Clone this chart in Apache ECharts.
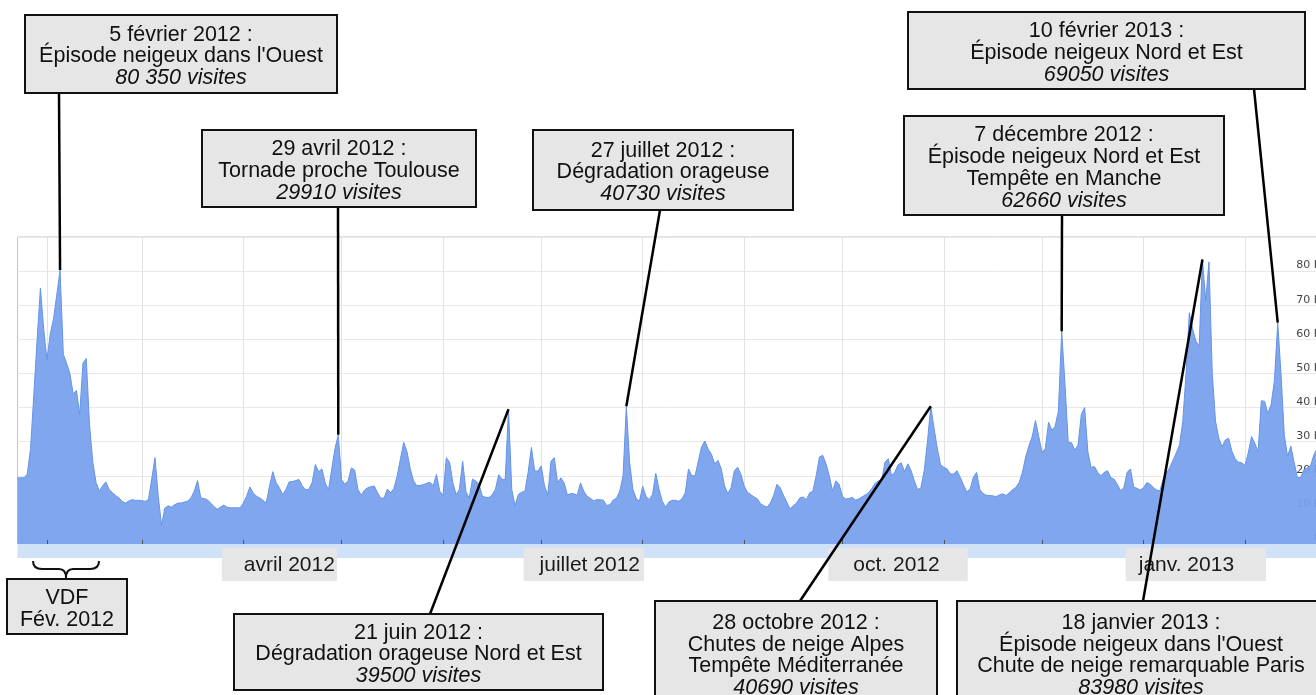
<!DOCTYPE html>
<html><head><meta charset="utf-8">
<script src="https://cdn.jsdelivr.net/npm/echarts@6/dist/echarts.min.js"></script>
<style>html,body{margin:0;padding:0;background:#fff}#c{width:1316px;height:695px}</style>
</head><body><div id="c"></div>
<script>
// ---- data (visits, in thousands, one value per day from 23 Jan 2012) ----
const startDay = [2012, 0, 23];
const visitsK = [
19.4,19.4,19.4,20.5,28,44,60,75,63,54,
61.5,66,73,80.3,55.6,53,50,44,45,38,
53,54.4,35,24,18,15.5,17,18.2,16,15,
14.2,13.5,12.5,12,12.6,13,12.8,12.8,12.7,12.5,
13,19,25.3,14,5.5,10.5,11.2,10.8,11.5,12,
12,12.3,12.6,13.5,15.5,18.6,13.5,13.3,13,12,
11,10.2,10.8,11.4,10.8,10.6,10.6,10.6,10.6,12,
14,16.7,15,14,13.5,12.8,12,17,21.2,18,
16.5,14.4,16,18.2,18.3,18.6,18.9,17,15.9,16,
18,23.3,21.2,22,17.9,15.8,22,28,32,18.9,
17.5,18.5,22.3,21.7,16,14.3,15.8,16.5,16.8,17,
15,13.4,13.5,16.1,15,16.3,20,25,29.8,27,
22,18.5,17.1,17.2,17.4,17.8,18.1,17.1,20.4,15.5,
14.2,25.3,24,18,14.5,16,24.3,15.4,13.4,19,
18.5,17.5,14,13.7,13.6,14.4,16,20.3,19,18.9,
39.5,16,11.2,14.5,15.2,15.4,21,28.3,21.4,21.4,
22.9,17,14.4,24.3,25.3,17.9,19.4,17.9,14.4,14.8,
14.7,14.3,17.9,15.5,14,13.4,12.7,13,13,12.8,
11.3,11.5,12.9,13.4,15.5,20,40.4,24,16,13.4,
12.5,16.9,14,13,14.5,20.7,16,12.5,10.8,12.3,
12.8,12.8,12.5,13.2,15,22,20,20,24.3,28.5,
30.2,27.8,26.3,23.5,24.5,22,17,14.8,16.5,21.5,
22.5,20.4,17,15.2,14.5,13.8,13.3,11.8,11.2,10.8,
12,14.2,17.5,16.5,14.3,12.3,10.3,11.2,12,13.5,
13.8,13,15,15.5,20,25.5,26,23.5,20,15.5,
18.5,17.5,14,13.2,13.3,13.7,12.9,13.2,13.8,14.4,
15,16.3,17.8,18.5,18.5,24,25,20,21,23.2,
23.8,21.2,23.5,21.5,18.5,15.9,16.5,21.5,30,40.4,
34,28,23.2,22.5,22,20.5,20.5,21.5,19.6,17.3,
15.3,16,19.5,21,15.9,14.8,14.3,14.2,14.1,13.9,
14.4,14.7,14.2,15,15.9,16.6,18,21,25.5,28.8,
31.5,36.2,31.5,26.8,28,35.7,33.3,34.5,39,62.4,
47,29.7,29.7,27.5,29,38,40,27,22.4,22.7,
21,20,21,21.5,19.5,19,17.5,15.6,16.5,21,
22,16.7,16.3,15.8,16.5,18,17.5,16.6,15.8,15.6,
19,20.8,22.3,24.5,26.7,29,36,50,67.8,63,
59.5,58,83.4,71.3,82.7,50,36,31,28.5,30.5,
31,27.2,25,24,23.8,23,26.7,31.5,29.5,27,
42,41.8,38.2,41,48,64.9,50,32,25.7,28.7,
24,19.5,19.5,21.8,22.3,22.8,26,28
];
const monthLabels = ['avril 2012', 'juillet 2012', 'oct. 2012', 'janv. 2013'];
const monthLabelDates = ['2012-04-12', '2012-07-14', '2012-10-18', '2013-01-17'];
const yTickLabels = ['0', '10 K', '20 K', '30 K', '40 K', '50 K', '60 K', '70 K', '80 K', ''];
const eventPeakDates = ['2012-02-05', '2012-04-30', '2012-07-27', '2012-12-07', '2013-02-11', '2012-06-21', '2012-10-28', '2013-01-19'];
const eventTexts = [
  ['5 février 2012 :', "Épisode neigeux dans l'Ouest", '80 350 visites'],
  ['29 avril 2012 :', 'Tornade proche Toulouse', '29910 visites'],
  ['27 juillet 2012 :', 'Dégradation orageuse', '40730 visites'],
  ['7 décembre 2012 :', 'Épisode neigeux Nord et Est', 'Tempête en Manche', '62660 visites'],
  ['10 février 2013 :', 'Épisode neigeux Nord et Est', '69050 visites'],
  ['21 juin 2012 :', 'Dégradation orageuse Nord et Est', '39500 visites'],
  ['28 octobre 2012 :', 'Chutes de neige Alpes', 'Tempête Méditerranée', '40690 visites'],
  ['18 janvier 2013 :', "Épisode neigeux dans l'Ouest", 'Chute de neige remarquable Paris', '83980 visites']
];
const periodText = ['VDF', 'Fév. 2012'];

// ---- layout (pixels) ----
const boxLayout = [
  {box: [25, 15, 312, 78], from: [59, 93]},
  {box: [202, 130, 274, 77], from: [338, 207]},
  {box: [533, 130, 260, 80], from: [660, 210]},
  {box: [904, 116, 320, 99], from: [1062, 215]},
  {box: [908, 12, 397, 77], from: [1254, 89]},
  {box: [234, 614, 369, 76], from: [430, 614]},
  {box: [655, 601, 282, 104], from: [800, 601]},
  {box: [957, 601, 368, 104], from: [1143, 601]}
];
const periodBox = [7, 579, 120, 55];
const FONT = '"Liberation Sans", Arial, sans-serif';
const LH = 21.8;
const TEXT_DY = 2.5;

const dates = visitsK.map((v, k) => new Date(Date.UTC(startDay[0], startDay[1], startDay[2] + k)).toISOString().slice(0, 10));
const isMonthStart = (idx, val) => dates[idx].slice(8) === '01';

function boxGraphics(rect, lines, italicLast) {
  const [x, y, w, h] = rect;
  const els = [{type: 'rect', z: 100, shape: {x: x, y: y, width: w, height: h},
    style: {fill: '#e6e6e6', stroke: '#111', lineWidth: 2}}];
  const n = lines.length;
  const cy0 = y + h / 2 - (n - 1) / 2 * LH + TEXT_DY;
  lines.forEach((t, k) => {
    const it = italicLast && k === n - 1;
    els.push({type: 'text', z: 101, style: {x: x + w / 2, y: cy0 + k * LH, text: t,
      font: (it ? 'italic ' : '') + '21.5px ' + FONT, fill: '#111', align: 'center', verticalAlign: 'middle'}});
  });
  return els;
}

const graphics = [];
eventTexts.forEach((lines, k) => graphics.push(...boxGraphics(boxLayout[k].box, lines, true)));
graphics.push(...boxGraphics(periodBox, periodText, false));
// curly brace above VDF box
const braceStyle = {stroke: '#111', lineWidth: 2, fill: 'none'};
graphics.push(
  {type: 'bezierCurve', z: 100, shape: {x1: 33, y1: 561, cpx1: 33, cpy1: 569, x2: 42, y2: 569}, style: braceStyle},
  {type: 'line', z: 100, shape: {x1: 42, y1: 569, x2: 59, y2: 569}, style: braceStyle},
  {type: 'bezierCurve', z: 100, shape: {x1: 59, y1: 569, cpx1: 66, cpy1: 569, x2: 66, y2: 578}, style: braceStyle},
  {type: 'bezierCurve', z: 100, shape: {x1: 66, y1: 578, cpx1: 66, cpy1: 569, x2: 73, y2: 569}, style: braceStyle},
  {type: 'line', z: 100, shape: {x1: 73, y1: 569, x2: 90, y2: 569}, style: braceStyle},
  {type: 'bezierCurve', z: 100, shape: {x1: 90, y1: 569, cpx1: 99, cpy1: 569, x2: 99, y2: 561}, style: braceStyle}
);

const leaderLines = eventPeakDates.map((d, k) => {
  const idx = dates.indexOf(d);
  return [{coord: [d, visitsK[idx]]}, {x: boxLayout[k].from[0], y: boxLayout[k].from[1]}];
});

const labelPads = [[7, 2, 5, 22], [7, 4, 5, 16], [7, 28, 5, 25], [7, 32, 5, 13]];
const rich = {};
labelPads.forEach((p, k) => {
  rich['m' + k] = {backgroundColor: '#e6e6e6', padding: p, fontSize: 21, lineHeight: 21,
    fontFamily: FONT, color: '#1a1a1a'};
});

const chart = echarts.init(document.getElementById('c'), null, {renderer: 'canvas'});
chart.setOption({
  animation: false,
  backgroundColor: '#fff',
  grid: {left: 17.5, right: -1, top: 237, bottom: 151, show: true, borderColor: '#c4c4c4', borderWidth: 1,
    containLabel: false, outerBoundsMode: 'none'},
  xAxis: [
    {type: 'category', position: 'bottom', data: dates, boundaryGap: false, z: 0,
      axisLine: {show: false}, axisTick: {show: false}, axisLabel: {show: false},
      splitLine: {show: true, interval: isMonthStart, lineStyle: {color: '#e2e2e2', width: 1}}},
    {type: 'category', position: 'bottom', data: dates, boundaryGap: false, z: 3,
      axisLine: {show: false}, axisLabel: {show: false}, splitLine: {show: false},
      axisTick: {show: true, inside: true, length: 4, interval: isMonthStart, lineStyle: {color: '#555', width: 1}}},
    {type: 'category', position: 'bottom', data: dates, boundaryGap: false, z: 1, offset: 7,
      axisLine: {show: true, lineStyle: {color: '#d0e2f8', width: 14, cap: 'butt'}},
      axisTick: {show: false}, splitLine: {show: false},
      axisLabel: {show: true, margin: 3, interval: (idx) => monthLabelDates.indexOf(dates[idx]) >= 0,
        formatter: (val) => { const k = monthLabelDates.indexOf(val); return k >= 0 ? '{m' + k + '|' + monthLabels[k] + '}' : ''; },
        rich: rich}}
  ],
  yAxis: {type: 'value', position: 'right', min: 0, max: 90, interval: 10,
    axisLine: {show: false}, axisTick: {show: false},
    splitLine: {show: true, lineStyle: {color: '#e8e8e8', width: 1}},
    axisLabel: {inside: true, margin: -4, fontSize: 11, fontFamily: '"DejaVu Sans", Verdana, sans-serif', color: '#444',
      verticalAlign: 'bottom', lineHeight: 11, formatter: (v) => yTickLabels[Math.round(v / 10)] || ''}},
  series: [{
    type: 'line', data: visitsK, xAxisIndex: 0, symbol: 'none', showSymbol: false,
    lineStyle: {width: 1, color: '#6593e6'},
    areaStyle: {color: '#76a0ed', opacity: 0.93},
    markLine: {silent: true, symbol: ['none', 'none'], label: {show: false}, emphasis: {disabled: true},
      lineStyle: {color: '#000', width: 2.5, type: 'solid'}, data: leaderLines}
  }],
  graphic: graphics
});
</script></body></html>
